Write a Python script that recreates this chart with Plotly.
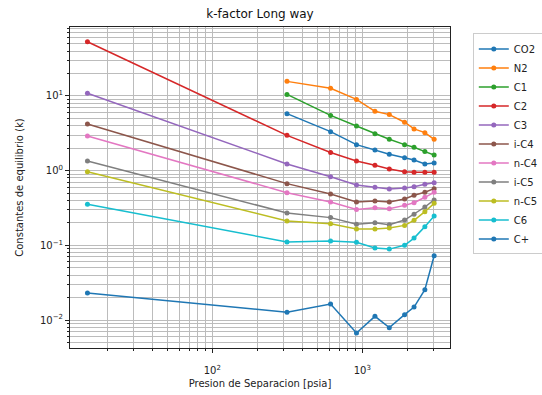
import plotly.graph_objects as go

pressure = [14.7, 314.7, 614.7, 914.7, 1214.7, 1514.7, 1914.7, 2214.7, 2614.7, 3014.7]

names = ["CO2", "N2", "C1", "C2", "C3", "i-C4", "n-C4", "i-C5", "n-C5", "C6", "C+"]

k_CO2 = [None, 5.8, 3.33, 2.23, 1.89, 1.66, 1.49, 1.39, 1.23, 1.27]
k_N2 = [None, 15.7, 12.7, 9.0, 6.24, 5.63, 4.45, 3.62, 3.23, 2.63]
k_C1 = [None, 10.5, 5.5, 3.96, 3.13, 2.63, 2.23, 2.06, 1.80, 1.62]
k_C2 = [53.3, 2.97, 1.75, 1.35, 1.18, 1.05, 0.97, 0.95, 0.95, 0.95]
k_C3 = [10.9, 1.23, 0.83, 0.643, 0.598, 0.568, 0.586, 0.61, 0.656, 0.69]
k_iC4 = [4.22, 0.67, 0.487, 0.38, 0.393, 0.38, 0.418, 0.468, 0.513, 0.574]
k_nC4 = [2.91, 0.507, 0.38, 0.303, 0.319, 0.31, 0.343, 0.372, 0.44, 0.513]
k_iC5 = [1.35, 0.271, 0.235, 0.191, 0.201, 0.189, 0.218, 0.26, 0.326, 0.405]
k_nC5 = [0.97, 0.212, 0.195, 0.166, 0.166, 0.171, 0.185, 0.216, 0.282, 0.365]
k_C6 = [0.354, 0.111, 0.114, 0.11, 0.092, 0.089, 0.1, 0.125, 0.178, 0.247]
k_Cplus = [0.023, 0.0127, 0.0164, 0.0067, 0.0112, 0.0079, 0.0118, 0.0149, 0.0255, 0.0726]

series = [k_CO2, k_N2, k_C1, k_C2, k_C3, k_iC4, k_nC4, k_iC5, k_nC5, k_C6, k_Cplus]
colors = ["#1f77b4", "#ff7f0e", "#2ca02c", "#d62728", "#9467bd", "#8c564b",
          "#e377c2", "#7f7f7f", "#bcbd22", "#17becf", "#1f77b4"]

x_minor = [m * 10 ** e for e in (1, 2, 3) for m in range(2, 10)]
y_minor = [m * 10.0 ** e for e in (-3, -2, -1, 0, 1) for m in range(2, 10)]

fig = go.Figure()
for name, vals, c in zip(names, series, colors):
    xs = [p for p, v in zip(pressure, vals) if v is not None]
    ys = [v for v in vals if v is not None]
    fig.add_trace(go.Scatter(x=xs, y=ys, name=name, mode="lines+markers",
                             line=dict(color=c, width=1.5),
                             marker=dict(color=c, size=5)))

font = "DejaVu Sans, sans-serif"
grid = "#bcbcbc"

fig.update_layout(
    width=542, height=395,
    margin=dict(l=70, r=92, t=27, b=47, autoexpand=False),
    paper_bgcolor="white", plot_bgcolor="white",
    font=dict(family=font, size=10, color="#222"),
    title=dict(text="k-factor Long way", x=(70 + 450) / 2 / 542, xanchor="center",
               y=1 - 14 / 395, yanchor="middle",
               font=dict(family=font, size=12, color="#111")),
    showlegend=True,
    legend=dict(x=1.06, y=0.98, xanchor="left", yanchor="top",
                bordercolor="#cccccc", borderwidth=1, bgcolor="white",
                font=dict(size=10), tracegroupgap=0, itemwidth=30),
)

fig.update_xaxes(
    type="log", range=[1.051, 3.585],
    tickvals=[100, 1000], ticktext=["10<sup>2</sup>", "10<sup>3</sup>"],
    ticks="outside", ticklen=4, tickcolor="#222", ticklabelstandoff=9,
    showgrid=True, gridcolor=grid, gridwidth=1,
    minor=dict(tickvals=x_minor, ticks="outside", ticklen=2, tickcolor="#222",
               showgrid=True, gridcolor=grid, gridwidth=1),
    showline=True, linecolor="#222", linewidth=1, mirror=True, zeroline=False,
    title=dict(text="Presion de Separacion [psia]", font=dict(size=10), standoff=4),
)
fig.update_yaxes(
    type="log", range=[-2.375, 1.924],
    tickvals=[0.01, 0.1, 1, 10],
    ticktext=["10<sup>−2</sup>", "10<sup>−1</sup>", "10<sup>0</sup>", "10<sup>1</sup>"],
    ticks="outside", ticklen=4, tickcolor="#222",
    showgrid=True, gridcolor=grid, gridwidth=1,
    minor=dict(tickvals=y_minor, ticks="outside", ticklen=2, tickcolor="#222",
               showgrid=True, gridcolor=grid, gridwidth=1),
    showline=True, linecolor="#222", linewidth=1, mirror=True, zeroline=False,
    title=dict(text="Constantes de equilibrio (k)", font=dict(size=10), standoff=14),
)

fig.write_html("out.html", config={"displayModeBar": False},
               post_script="document.body.style.margin='0';document.body.style.overflow='hidden';")
